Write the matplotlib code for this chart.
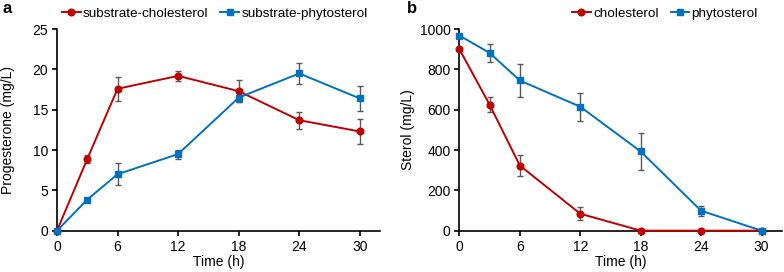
import matplotlib
matplotlib.use("Agg")
import matplotlib.pyplot as plt

plt.rcParams['font.family'] = ['Liberation Sans', 'DejaVu Sans']

time = [0, 3, 6, 12, 18, 24, 30]
xticks = [0, 6, 12, 18, 24, 30]

# Panel a: progesterone (mg/L)
prog_chol = [0, 8.9, 17.6, 19.2, 17.3, 13.7, 12.3]
prog_chol_err = [0, 0.5, 1.5, 0.6, 1.4, 1.05, 1.5]
prog_phyto = [0, 3.85, 7.0, 9.5, 16.5, 19.5, 16.4]
prog_phyto_err = [0, 0.2, 1.35, 0.55, 0.55, 1.35, 1.5]

# Panel b: sterol (mg/L)
ster_chol = [900, 625, 323, 84, 0, 0, 0]
ster_chol_err = [0, 36, 50, 33, 0, 0, 0]
ster_phyto = [968, 882, 745, 615, 393, 99, 0]
ster_phyto_err = [0, 45, 80, 70, 90, 25, 0]

RED = '#C00000'
BLUE = '#0070C0'
ECOL = '#595959'
FS = 10

fig = plt.figure(figsize=(7.84, 2.72), dpi=100)
axa = fig.add_axes([0.0727, 0.152, 0.412, 0.741])
axb = fig.add_axes([0.586, 0.152, 0.411, 0.741])

def style(ax):
    ax.spines['top'].set_visible(False)
    ax.spines['right'].set_visible(False)
    for s in ('left', 'bottom'):
        ax.spines[s].set_linewidth(1.2)
    ax.tick_params(axis='both', direction='out', length=3.5, width=1.2, labelsize=FS,
                   pad=3)
    ax.set_xticks(xticks)
    ax.set_xlim(0, 32)

def plot_series(ax, y, e, color, marker, label):
    ax.errorbar(time, y, yerr=e, fmt='none', ecolor=ECOL, elinewidth=1, capsize=2,
                capthick=1, zorder=2)
    ax.plot(time, y, color=color, marker=marker, markersize=4.8, lw=1.4,
            label=label, zorder=3, clip_on=False)

leg_kw = dict(loc='center left', bbox_transform=fig.transFigure, ncol=2, frameon=False,
              fontsize=9.7, handlelength=1.4, handletextpad=0.15, columnspacing=0.9,
              borderaxespad=0.0, borderpad=0.0)

plot_series(axa, prog_chol, prog_chol_err, RED, 'o', 'substrate-cholesterol')
plot_series(axa, prog_phyto, prog_phyto_err, BLUE, 's', 'substrate-phytosterol')
style(axa)
axa.set_ylim(0, 25)
axa.set_yticks([0, 5, 10, 15, 20, 25])
axa.set_xlabel('Time (h)', fontsize=FS, labelpad=1)
axa.set_ylabel('Progesterone (mg/L)', fontsize=FS)
axa.yaxis.set_label_coords(-0.131, 0.5)
axa.legend(bbox_to_anchor=(0.079, 0.949), **leg_kw)

plot_series(axb, ster_chol, ster_chol_err, RED, 'o', 'cholesterol')
plot_series(axb, ster_phyto, ster_phyto_err, BLUE, 's', 'phytosterol')
style(axb)
axb.set_ylim(0, 1000)
axb.set_yticks([0, 200, 400, 600, 800, 1000])
axb.set_xlabel('Time (h)', fontsize=FS, labelpad=1)
axb.set_ylabel('Sterol (mg/L)', fontsize=FS)
axb.yaxis.set_label_coords(-0.139, 0.5)
axb.legend(bbox_to_anchor=(0.7296, 0.949), **leg_kw)

fig.text(0.003, 0.967, 'a', fontsize=12, fontweight='bold', va='center')
fig.text(0.519, 0.967, 'b', fontsize=12, fontweight='bold', va='center')

fig.savefig('out.png', dpi=100)
